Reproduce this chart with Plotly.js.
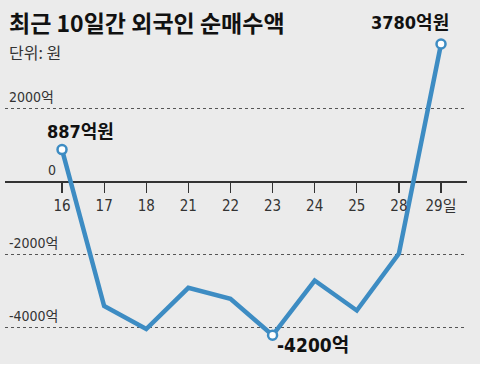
<!DOCTYPE html>
<html><head><meta charset="utf-8">
<script src="https://cdn.plot.ly/plotly-3.0.1.min.js"></script>
<style>html,body{margin:0;padding:0;background:#ebebeb}</style>
</head><body><div id="chart" style="width:480px;height:371px"></div>
<script>
const days = ['16','17','18','21','22','23','24','25','28','29'];
const dayLabels = ['16','17','18','21','22','23','24','25','28','29일'];
const netBuy = [887, -3400, -4030, -2900, -3200, -4200, -2700, -3520, -1960, 3780];
const yTickVals = [2000, 0, -2000, -4000];
const yTickText = ['2000억', '0', '-2000억', '-4000억'];
const markedIdx = [0, 5, 9];
const markedText = ['887억원', '-4200억', '3780억원'];
const titleText = '최근 10일간 외국인 순매수액';
const unitText = '단위: 원';

const NARROW = 'Liberation Sans Narrow, DejaVu Sans Condensed, Noto Sans CJK KR, sans-serif';
const BLUE = '#3d8cc3';

const traces = [
  {x: days, y: netBuy, type: 'scatter', mode: 'lines',
   line: {color: BLUE, width: 4.5}, hoverinfo: 'skip'},
  {x: markedIdx.map(i => days[i]), y: markedIdx.map(i => netBuy[i]), type: 'scatter', mode: 'markers',
   marker: {color: '#ffffff', size: 9, line: {color: BLUE, width: 2.5}}, hoverinfo: 'skip'}
];

const shifts = [[18, 18, 18], [40, -10, 19], [-31, 22, 18]];
const annotations = [];
markedIdx.forEach((i, k) => {
  annotations.push({x: i, y: netBuy[i], xref: 'x', yref: 'y', text: '<b>' + markedText[k] + '</b>',
    showarrow: false, xshift: shifts[k][0], yshift: shifts[k][1],
    font: {family: NARROW, size: shifts[k][2], color: '#111'}});
});
yTickVals.forEach((v, k) => {
  const isZero = v === 0;
  annotations.push({x: isZero ? 0.088 : 0.004, xref: 'paper', y: v, yref: 'y', yshift: 12,
    xanchor: 'left', yanchor: 'middle', showarrow: false, text: yTickText[k],
    font: {family: NARROW, size: 14, color: '#333'}});
});
annotations.push({x: 0.004, xref: 'paper', y: 1.025, yref: 'paper', xanchor: 'left', yanchor: 'middle',
  showarrow: false, text: '<b>' + titleText + '</b>', font: {family: 'Noto Sans CJK KR, sans-serif', size: 23, color: '#111'}});
annotations.push({x: 0.004, xref: 'paper', y: 0.93, yref: 'paper', xanchor: 'left', yanchor: 'middle',
  showarrow: false, text: unitText, font: {family: 'Noto Sans CJK KR, sans-serif', size: 16, color: '#333'}});

const layout = {
  width: 480, height: 371,
  margin: {l: 5, r: 13, t: 30, b: 21},
  paper_bgcolor: '#ebebeb', plot_bgcolor: 'rgba(0,0,0,0)',
  showlegend: false,
  xaxis: {type: 'category', range: [-1.354, 9.617], tickvals: days, ticktext: dayLabels,
    anchor: 'free', position: 0.525, ticks: 'outside', ticklen: 10, tickcolor: '#333', tickwidth: 1.2,
    showline: false, showgrid: false, zeroline: false,
    tickfont: {family: NARROW, size: 15, color: '#333'}, fixedrange: true},
  yaxis: {range: [-4603, 4164], tickvals: yTickVals.filter(v => v !== 0), showticklabels: false,
    showgrid: true, gridcolor: '#555', griddash: 'dot', gridwidth: 1,
    zeroline: true, zerolinecolor: '#333', zerolinewidth: 1.2, showline: false, fixedrange: true},
  shapes: [{type: 'rect', xref: 'paper', yref: 'paper', x0: -0.02, x1: 1.05, y0: -0.044, y1: -0.07,
    fillcolor: '#ffffff', line: {width: 0}, layer: 'below'}],
  annotations: annotations
};
Plotly.newPlot('chart', traces, layout, {displayModeBar: false, staticPlot: true});
</script></body></html>
